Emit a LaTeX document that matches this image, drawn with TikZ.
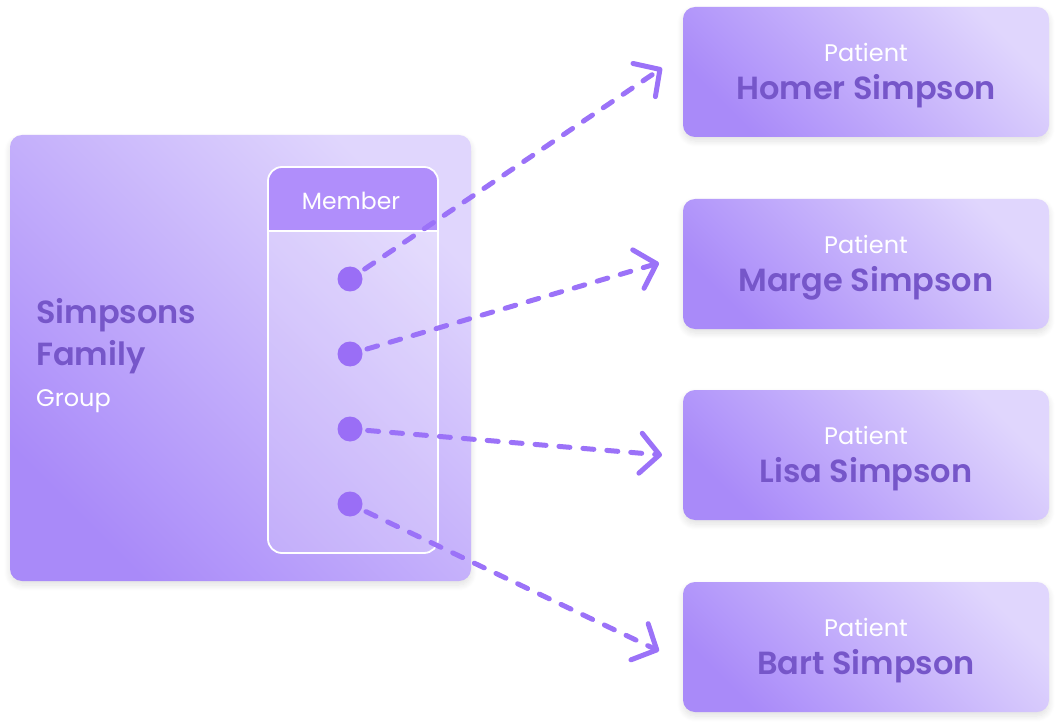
\documentclass[tikz,border=0pt]{standalone}
\usepackage{fontspec}
\setmainfont{Poppins}
\newfontfamily\semi{Poppins}[UprightFont=* SemiBold]
\usetikzlibrary{arrows.meta,shadows.blur}
\definecolor{gdark}{HTML}{A98AF9}
\definecolor{glight}{HTML}{E0D6FD}
\definecolor{hdrc}{HTML}{B08EFB}
\definecolor{dotc}{HTML}{9A6EF6}
\definecolor{arrc}{HTML}{9B72F8}
\definecolor{txtc}{HTML}{7656C9}
\tikzset{
  card/.style={rounded corners=12pt, bottom color=gdark, top color=glight, shading angle=-45,
    blur shadow={shadow xshift=0pt, shadow yshift=-4pt, shadow blur steps=8, shadow opacity=12, shadow blur radius=6pt}},
  dotn/.style={circle, fill=dotc, minimum size=25pt, inner sep=0pt},
  conn/.style={draw=arrc, line width=5pt, line cap=round, dash pattern=on 11pt off 13pt, shorten <=5pt,
    -{Straight Barb[length=19pt,width=40pt,line cap=round,line join=round]}},
  ptitle/.style={text=white, font=\fontsize{24}{28}\selectfont},
  pname/.style={text=txtc, font=\semi\fontsize{32}{38}\selectfont},
}
\begin{document}
\begin{tikzpicture}[x=1pt,y=-1pt]
\useasboundingbox (0,0) rectangle (1060,727);
% group card
\path[card] (10,135) rectangle (471,581);
\node (group) at (240.5,358) {};
% member column
\fill[white, opacity=0.18, rounded corners=14pt] (268,167) rectangle (438,553);
\fill[hdrc, rounded corners=14pt] (268,167) rectangle (438,200);
\fill[hdrc] (268,190) rectangle (438,231);
\draw[white, line width=1.8pt, rounded corners=14pt] (268,167) rectangle (438,553);
\draw[white, line width=1.8pt] (268,231) -- (438,231);
\node[text=white, font=\fontsize{23.5}{28}\selectfont] (hdr) at (351,201) {Member};
\node[anchor=west, align=left, text=txtc, font=\semi\fontsize{32}{42}\selectfont, inner sep=0pt] (gname) at (36,336) {Simpsons\\Family};
\node[anchor=west, text=white, font=\fontsize{24}{28}\selectfont, inner sep=0pt] (glabel) at (36,401) {Group};
% dots
\node[dotn] (d1) at (350,279) {};
\node[dotn] (d2) at (350,354) {};
\node[dotn] (d3) at (350,429) {};
\node[dotn] (d4) at (350,504) {};
% patients
\foreach \n/\y/\name in {1/7/Homer Simpson, 2/199/Marge Simpson, 3/390/Lisa Simpson, 4/582/Bart Simpson}{
  \path[card] (683,\y) rectangle (1049,\y+130);
  \node[ptitle] (pt\n) at (866,\y+45) {Patient};
  \node[pname] (p\n) at (866,\y+84) {\name};
}
% arrow tips
\coordinate (t1) at (662,68);
\coordinate (t2) at (659,263);
\coordinate (t3) at (662,455);
\coordinate (t4) at (659,651);
\draw[conn] (d1) -- (t1);
\draw[conn] (d2) -- (t2);
\draw[conn] (d3) -- (t3);
\draw[conn] (d4) -- (t4);
\end{tikzpicture}
\end{document}
